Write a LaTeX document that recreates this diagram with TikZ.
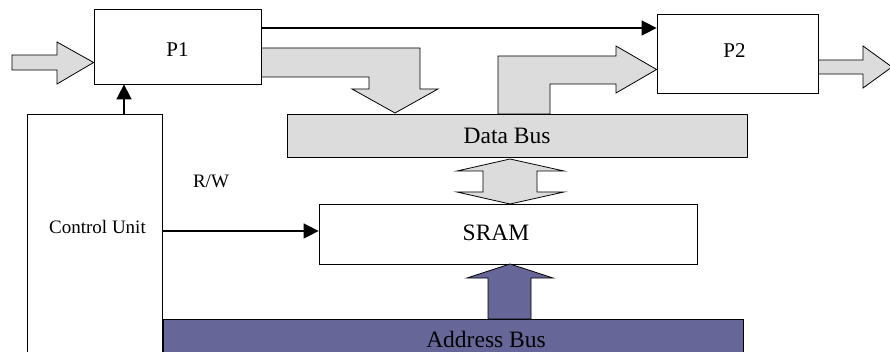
\documentclass[tikz,border=0pt]{standalone}
\usepackage{fontspec}
\setmainfont{Liberation Serif}
\usetikzlibrary{arrows.meta}
\definecolor{busgray}{HTML}{DCDCDC}
\definecolor{buspurple}{HTML}{666699}
\tikzset{
  box/.style={draw=black, line width=0.8pt, inner sep=0pt, rectangle, fill=white},
  busbox/.style={box, fill=busgray},
  blockarrow/.style={draw=black, line width=0.8pt, fill=busgray, line join=miter},
  sig/.style={line width=1.6pt, -{Triangle[length=15pt,width=15pt]}},
  big/.style={font=\fontsize{23.5}{26}\selectfont, anchor=base, inner sep=0pt},
  mid/.style={font=\fontsize{21}{24}\selectfont, anchor=base, inner sep=0pt},
  small/.style={font=\fontsize{19}{22}\selectfont, anchor=base, inner sep=0pt}
}
\begin{document}
\begin{tikzpicture}[x=1pt,y=-1pt]
\useasboundingbox (0,0) rectangle (890,352);
\fill[white] (0,0) rectangle (890,352);

% boxes
\node[box, minimum width=167pt, minimum height=75pt] (p1) at (177.5,46.5) {};
\node[box, minimum width=161pt, minimum height=79pt] (p2) at (737.5,53.5) {};
\node[busbox, minimum width=460pt, minimum height=43pt] (db) at (517,135.5) {};
\node[box, minimum width=378pt, minimum height=60pt] (sram) at (508,234) {};
\node[box, minimum width=135pt, minimum height=256pt] (cu) at (94.5,242) {};
\node[box, fill=buspurple, minimum width=580pt, minimum height=51pt] (ab) at (453,344.5) {};

% texts
\node[mid] (t1) at (177.5,57) {P1};
\node[mid] (t2) at (734.5,57.5) {P2};
\node[big] (tdb) at (507,144) {Data Bus};
\node[big] (tsram) at (496,240.5) {SRAM};
\node[small] (tcu) at (97.5,234) {Control Unit};
\node[small] (trw) at (211,188) {R/W};
\node[big] (tab) at (486,347) {Address Bus};

% block arrows
\draw[blockarrow] (12,55) -- (57,55) -- (57,42) -- (p1.west |- 0,62.5) -- (57,84) -- (57,70) -- (12,70) -- cycle;
\draw[blockarrow] (p1.east |- 0,48) -- (420,48) -- (420,89) -- (438,89) -- (395,113) -- (352,89) -- (369,89) -- (369,77) -- (p1.east |- 0,77) -- cycle;
\draw[blockarrow] (498,114) -- (498,56) -- (616,56) -- (616,46) -- (p2.west |- 0,69.5) -- (616,93) -- (616,84) -- (550,84) -- (550,114) -- cycle;
\draw[blockarrow] (p2.east |- 0,60) -- (863,60) -- (863,46) -- (892,67) -- (863,88) -- (863,74) -- (p2.east |- 0,74) -- cycle;
\draw[blockarrow] (510,159) -- (564,171) -- (537,171) -- (537,192) -- (564,192) -- (510,204) -- (457,192) -- (483,192) -- (483,171) -- (457,171) -- cycle;
\draw[blockarrow, fill=buspurple] (510,264) -- (553,278) -- (531,278) -- (531,319) -- (488,319) -- (488,278) -- (467,278) -- cycle;

% signal arrows
\coordinate (cx) at (124,0);
\coordinate (ly) at (0,28);
\coordinate (ry) at (0,231);
\draw[sig] (cx |- cu.north) -- (cx |- p1.south);
\draw[sig] (p1.east |- ly) -- (p2.west |- ly);
\draw[sig] (cu.east |- ry) -- (sram.west |- ry);
\end{tikzpicture}
\end{document}
